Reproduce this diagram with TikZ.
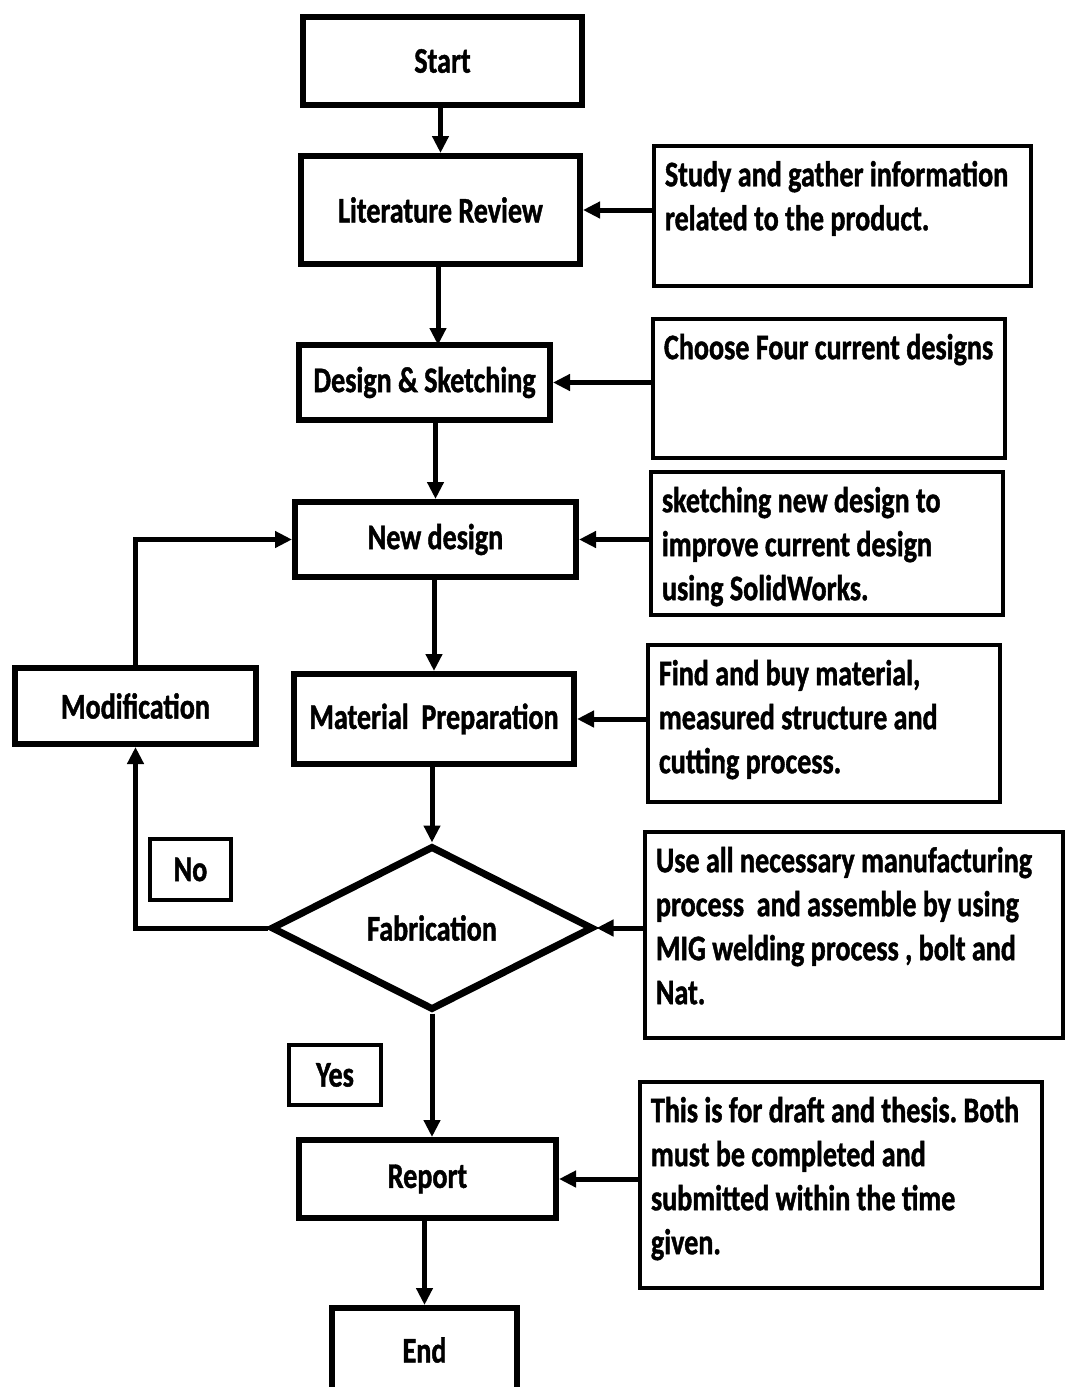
\documentclass[tikz,border=0pt]{standalone}
\usepackage{fontspec}
\setmainfont{Carlito}[FakeStretch=0.78, BoldFeatures={FakeBold=1.2}]
\usetikzlibrary{arrows.meta,shapes.geometric}
\frenchspacing
\begin{document}
\begin{tikzpicture}[x=1pt,y=-1pt,
  txt/.style={font=\fontsize{36}{44}\selectfont\bfseries},
  flow/.style={draw, line width=6pt, rectangle, inner sep=0pt, txt},
  rbox/.style={draw, line width=4.5pt, rectangle, inner sep=0pt},
  rtxt/.style={anchor=north west, inner sep=0pt, align=left, txt},
  arr/.style={line width=5pt, -{Triangle[length=17pt,width=16pt]}}
]
\useasboundingbox (0,0) rectangle (1067,1387);
\fill[white] (0,0) rectangle (1067,1387);

% flow boxes
\node[flow, minimum width=279, minimum height=88] (start) at (442.5,61) {Start};
\node[flow, minimum width=279, minimum height=108] (lit) at (440.5,210) {Literature Review};
\node[flow, minimum width=251, minimum height=75] (des) at (424.5,382.5) {Design \& Sketching};
\node[flow, minimum width=281, minimum height=75] (new) at (435.5,539.5) {New design};
\node[flow, minimum width=280, minimum height=90] (mat) at (434,719) {Material\ \ Preparation};
\node[flow, minimum width=241, minimum height=76] (mod) at (135.5,706) {Modification};
\node[draw, diamond, line width=7pt, inner sep=0pt, minimum width=322, minimum height=164, txt] (fab) at (432,928) {Fabrication};
\node[flow, minimum width=257, minimum height=78] (rep) at (427.5,1179) {Report};
\node[flow, minimum width=185, minimum height=84] (end) at (424.5,1350) {End};
\node[flow, line width=4pt, minimum width=81, minimum height=61] (no) at (190.5,869.5) {No};
\node[flow, line width=4pt, minimum width=92, minimum height=60] (yes) at (335,1075) {Yes};

% right boxes
\node[rbox, minimum width=377, minimum height=140] (r1) at (842.5,216) {};
\node[rbox, minimum width=352, minimum height=139] (r2) at (829,388.5) {};
\node[rbox, minimum width=352, minimum height=143] (r3) at (827,543.5) {};
\node[rbox, minimum width=352, minimum height=157] (r4) at (824,723.5) {};
\node[rbox, minimum width=418, minimum height=206] (r5) at (854,935) {};
\node[rbox, minimum width=402, minimum height=206] (r6) at (841,1185) {};

\node[rtxt] (t1) at ([xshift=13pt,yshift=-17pt]r1.north west) {Study and gather information\\related to the product.};
\node[rtxt] (t2) at ([xshift=13pt,yshift=-17pt]r2.north west) {Choose Four current designs};
\node[rtxt] (t3) at ([xshift=13pt,yshift=-17pt]r3.north west) {sketching new design to\\improve current design\\using SolidWorks.};
\node[rtxt] (t4) at ([xshift=13pt,yshift=-17pt]r4.north west) {Find and buy material,\\measured structure and\\cutting process.};
\node[rtxt] (t5) at ([xshift=13pt,yshift=-17pt]r5.north west) {Use all necessary manufacturing\\process\ \ and assemble by using\\MIG welding process , bolt and\\Nat.};
\node[rtxt] (t6) at ([xshift=13pt,yshift=-17pt]r6.north west) {This is for draft and thesis. Both\\must be completed and\\submitted within the time\\given.};

% vertical flow arrows
\coordinate (dtop) at (438,345);
\draw[arr] (lit.north |- start.south) -- (lit.north);
\draw[arr] (lit.south -| dtop) -- (dtop);
\draw[arr] (new.north |- des.south) -- (new.north);
\draw[arr] (mat.north |- new.south) -- (mat.north);
\draw[arr] (fab.north |- mat.south) -- (fab.north);
\draw[arr] (fab.south) -- (fab.south |- rep.north);
\draw[arr] (end.north |- rep.south) -- (end.north);

% horizontal arrows from right boxes
\draw[arr] (r1.west |- lit.east) -- (lit.east);
\draw[arr] (r2.west |- des.east) -- (des.east);
\draw[arr] (r3.west |- new.east) -- (new.east);
\draw[arr] (r4.west |- mat.east) -- (mat.east);
\draw[arr] (r5.west |- fab.east) -- (fab.east);
\draw[arr] (r6.west |- rep.east) -- (rep.east);

% loop
\draw[arr] (fab.west) -| (mod.south);
\draw[arr] (mod.north) |- (new.west);
\end{tikzpicture}
\end{document}
